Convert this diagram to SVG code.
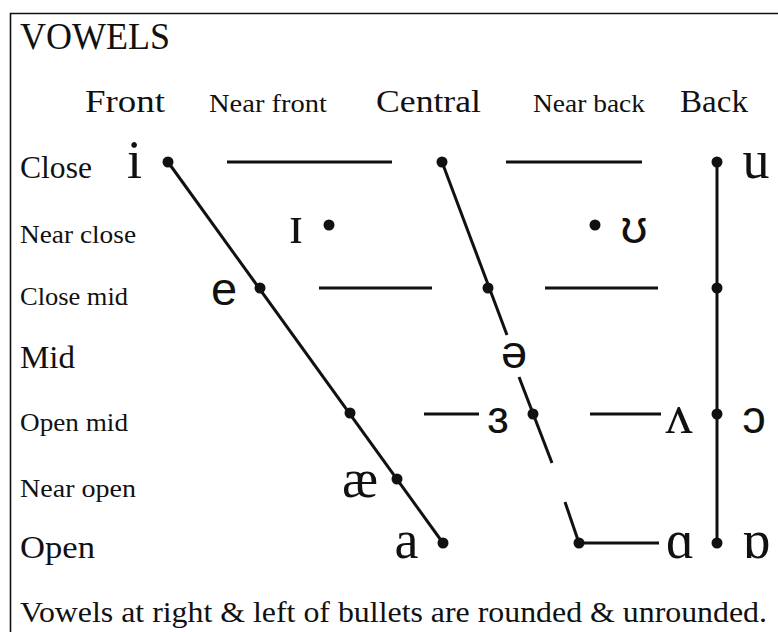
<svg xmlns="http://www.w3.org/2000/svg" width="778" height="632" viewBox="0 0 778 632">
<style>
.t{font-family:"Liberation Serif","DejaVu Serif",serif;fill:#111}
.h1{font-size:38px}
.hb{font-size:31px}
.hs{font-size:25px}
.rb{font-size:32px}
.rs{font-size:26px}
.v{font-family:"Liberation Serif","DejaVu Serif",serif;font-size:54px;fill:#111;text-anchor:middle}
.vs{font-family:"Liberation Sans","DejaVu Sans",sans-serif;font-size:47px;fill:#111;text-anchor:middle}
.ln{stroke:#111;stroke-width:3;fill:none;stroke-linecap:butt}
.dot{fill:#111}
</style>
<rect x="0" y="0" width="778" height="632" fill="#fff"/>
<path d="M10.5 632 V13.5 H778" fill="none" stroke="#111" stroke-width="1.6"/>

<g id="headings">
<text class="t h1" x="20" y="49" textLength="150" lengthAdjust="spacingAndGlyphs">VOWELS</text>
<text class="t hb" x="85" y="112" textLength="80" lengthAdjust="spacingAndGlyphs">Front</text>
<text class="t hs" x="209" y="112" textLength="118" lengthAdjust="spacingAndGlyphs">Near front</text>
<text class="t hb" x="376" y="112" textLength="105" lengthAdjust="spacingAndGlyphs">Central</text>
<text class="t hs" x="533" y="112" textLength="112" lengthAdjust="spacingAndGlyphs">Near back</text>
<text class="t hb" x="680" y="112" textLength="68" lengthAdjust="spacingAndGlyphs">Back</text>
<text class="t rb" x="20" y="178" textLength="72" lengthAdjust="spacingAndGlyphs">Close</text>
<text class="t rs" x="20" y="243" textLength="116" lengthAdjust="spacingAndGlyphs">Near close</text>
<text class="t rs" x="20" y="305" textLength="108" lengthAdjust="spacingAndGlyphs">Close mid</text>
<text class="t rb" x="20" y="368" textLength="55" lengthAdjust="spacingAndGlyphs">Mid</text>
<text class="t rs" x="20" y="431" textLength="108" lengthAdjust="spacingAndGlyphs">Open mid</text>
<text class="t rs" x="20" y="497" textLength="116" lengthAdjust="spacingAndGlyphs">Near open</text>
<text class="t rb" x="20" y="558" textLength="75" lengthAdjust="spacingAndGlyphs">Open</text>
<text class="t" style="font-size:29px" x="20" y="622" textLength="747" lengthAdjust="spacingAndGlyphs">Vowels at right &amp; left of bullets are rounded &amp; unrounded.</text>
</g>

<g id="connectors">
<line class="ln" x1="168" y1="162" x2="443" y2="543"/>
<line class="ln" x1="442" y1="162" x2="507" y2="335"/>
<line class="ln" x1="519" y1="377" x2="552" y2="463"/>
<line class="ln" x1="565" y1="502" x2="579" y2="543"/>
<line class="ln" x1="579" y1="543" x2="659" y2="543"/>
<line class="ln" x1="717" y1="162" x2="717" y2="543"/>
<line class="ln" x1="227" y1="162" x2="392" y2="162"/>
<line class="ln" x1="506" y1="162" x2="642" y2="162"/>
<line class="ln" x1="319" y1="288" x2="432" y2="288"/>
<line class="ln" x1="545" y1="288" x2="658" y2="288"/>
<line class="ln" x1="424" y1="414" x2="479" y2="414"/>
<line class="ln" x1="590" y1="414" x2="661" y2="414"/>
</g>

<g id="v-i"><circle class="dot" cx="168" cy="162" r="5.5"/><text class="v" x="134.5" y="178">i</text></g>
<g id="v-central-close"><circle class="dot" cx="442" cy="162" r="5.5"/></g>
<g id="v-u"><circle class="dot" cx="717" cy="162" r="5.5"/><text class="v" x="756" y="178">u</text></g>
<g id="v-small-i"><circle class="dot" cx="329" cy="225" r="5.5"/><text class="v" x="296" y="243">ɪ</text></g>
<g id="v-upsilon"><circle class="dot" cx="595" cy="225" r="5.5"/><text class="vs" x="634" y="243">ʊ</text></g>
<g id="v-e"><circle class="dot" cx="260" cy="288" r="5.5"/><text class="vs" x="224" y="305">e</text></g>
<g id="v-central-closemid"><circle class="dot" cx="488" cy="288" r="5.5"/></g>
<g id="v-back-closemid"><circle class="dot" cx="717" cy="288" r="5.5"/></g>
<g id="v-schwa"><text class="vs" x="514" y="368">ə</text></g>
<g id="v-front-openmid"><circle class="dot" cx="350" cy="413" r="5.5"/></g>
<g id="v-epsilon-rev"><circle class="dot" cx="533" cy="414" r="5.5"/><text class="vs" x="498" y="433">ɜ</text></g>
<g id="v-wedge-o"><circle class="dot" cx="717" cy="414" r="5.5"/><text class="v" x="679" y="433">ʌ</text><text class="vs" x="754" y="433">ɔ</text></g>
<g id="v-ae"><circle class="dot" cx="397" cy="479" r="5.5"/><text class="v" x="360" y="497">æ</text></g>
<g id="v-a"><circle class="dot" cx="443" cy="543" r="5.5"/><text class="v" x="406.5" y="558">a</text></g>
<g id="v-central-open"><circle class="dot" cx="579" cy="543" r="5.5"/></g>
<g id="v-back-open"><circle class="dot" cx="717" cy="543" r="5.5"/><text class="v" x="680" y="558">ɑ</text><text class="v" x="756" y="558">ɒ</text></g>
</svg>
